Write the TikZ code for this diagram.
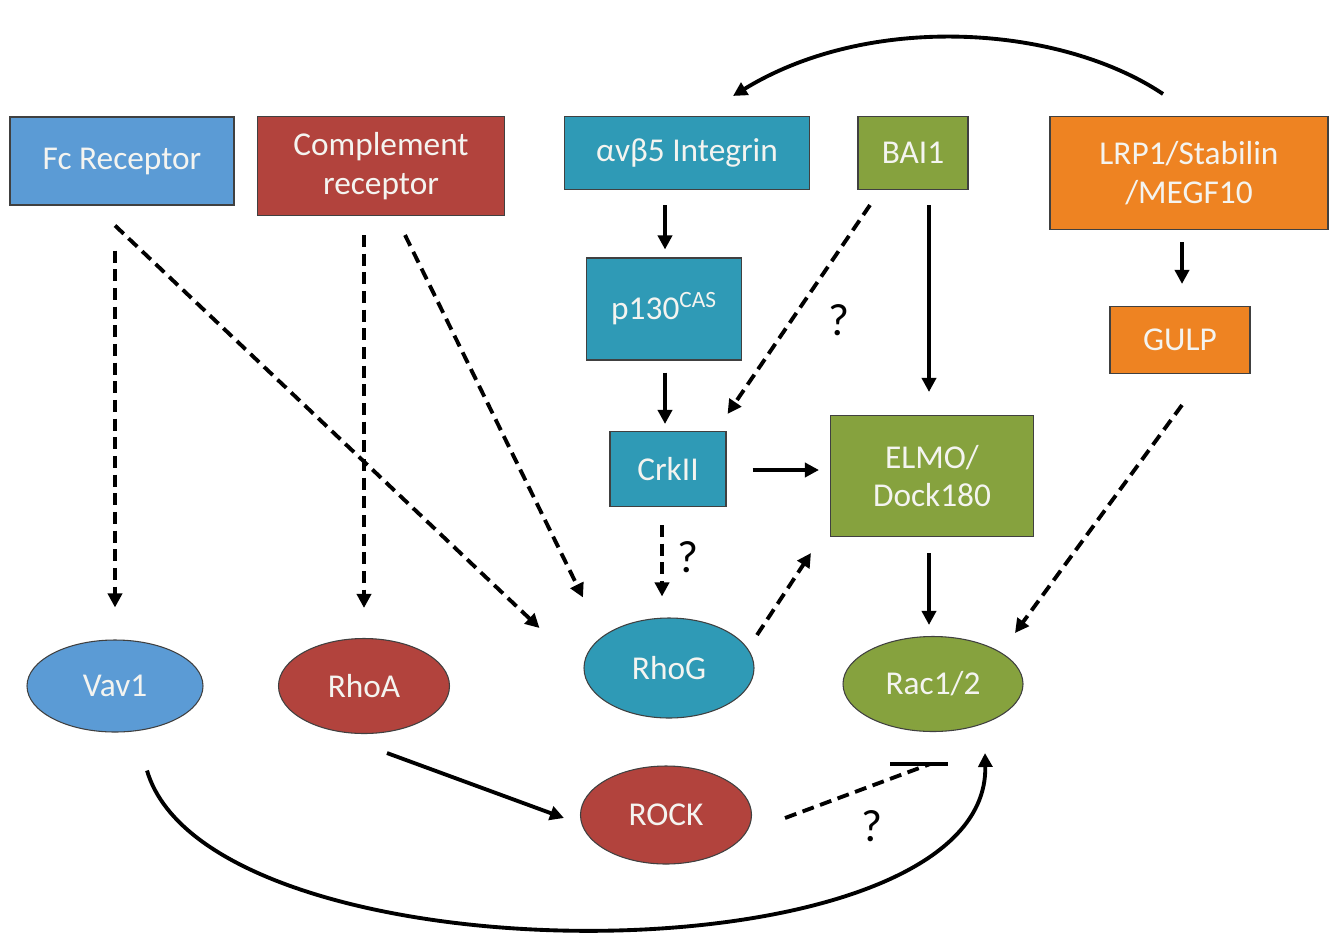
\documentclass[tikz,border=0pt]{standalone}
\usepackage{fontspec}
\setmainfont{Carlito}
\usetikzlibrary{arrows.meta,shapes.geometric,calc}
\definecolor{cblue}{HTML}{5B9BD5}
\definecolor{cred}{HTML}{B2433D}
\definecolor{cteal}{HTML}{2F9AB6}
\definecolor{cgreen}{HTML}{86A23E}
\definecolor{corange}{HTML}{EE8322}
\definecolor{ctext}{HTML}{F4F4F0}
\tikzset{
  box/.style={rectangle,draw=black!75,line width=0.8pt,text=ctext,inner sep=0pt,align=center,font=\fontsize{25}{29}\selectfont},
  oval/.style={ellipse,draw=black!75,line width=0.8pt,text=ctext,inner sep=0pt,font=\fontsize{25}{29}\selectfont},
  sz/.style 2 args={minimum width=#1*0.75pt,minimum height=#2*0.75pt},
  arr/.style={line width=2.9pt,-{Triangle[length=10.5pt,width=10.5pt]}},
  darr/.style={arr,dash pattern=on 9pt off 5pt},
  qm/.style={font=\fontsize{34}{38}\selectfont,text=black}
}
\begin{document}
\begin{tikzpicture}[x=0.75pt,y=-0.75pt]
\useasboundingbox[fill=white] (0,0) rectangle (1337,935);
% boxes
\node[box,fill=cblue,sz={224}{88}] (fc) at (122,161) {Fc Receptor};
\node[box,fill=cred,sz={247}{99}] (comp) at (381,166) {Complement\\receptor};
\node[box,fill=cteal,sz={245}{73}] (int) at (687,153) {αvβ5 Integrin};
\node[box,fill=cgreen,sz={110}{73}] (bai) at (913,153) {BAI1};
\node[box,fill=corange,sz={278}{113}] (lrp) at (1189,173) {LRP1/Stabilin\\/MEGF10};
\node[box,fill=cteal,sz={155}{102}] (p130) at (664,309) {p130\textsuperscript{CAS}};
\node[box,fill=cteal,sz={116}{75}] (crk) at (668,469) {CrkII};
\node[box,fill=cgreen,sz={203}{121}] (elmo) at (932,476) {ELMO/\\Dock180};
\node[box,fill=corange,sz={140}{67}] (gulp) at (1180,340) {GULP};
% ovals
\node[oval,fill=cblue,sz={176}{92}] (vav) at (115,686) {Vav1};
\node[oval,fill=cred,sz={171}{95}] (rhoa) at (364,686) {RhoA};
\node[oval,fill=cteal,sz={170}{100}] (rhog) at (669,668) {RhoG};
\node[oval,fill=cgreen,sz={180}{95}] (rac) at (933,684) {Rac1/2};
\node[oval,fill=cred,sz={171}{98}] (rock) at (666,815) {ROCK};
% connectors
\draw[darr] ($(fc.south)+(-7,45)$) -- ($(vav.north)+(0,-32)$);
\draw[darr] ($(fc.south)+(-7,20)$) -- ($(rhog.west)+(-44,-40)$);
\draw[darr] ($(comp.south)+(-17,19)$) -- ($(rhoa.north)+(0,-30)$);
\draw[darr] ($(comp.south)+(24,19)$) -- ($(rhog.north)+(-86,-20)$);
\draw[arr] ($(int.south)+(-22,15)$) -- ($(p130.north)+(1,-8)$);
\draw[arr] ($(p130.south)+(1,12)$) -- ($(crk.north)+(-3,-7)$);
\draw[darr] ($(bai.south)+(-43,15)$) -- ($(crk.north east)+(1,-17)$);
\node[qm] (q1) at (839,320) {?};
\draw[arr] ($(bai.south)+(16,15)$) -- ($(elmo.north)+(-3,-23)$);
\draw[arr] ($(crk.east)+(26,1)$) -- ($(elmo.west)+(-11,-6)$);
\draw[darr] ($(crk.south)+(-6,18)$) -- ($(rhog.north)+(-7,-21)$);
\node[qm] (q2) at (688,557) {?};
\draw[darr] ($(rhog.center)+(88,-33)$) -- ($(elmo.south west)+(-19,16)$);
\draw[arr] ($(elmo.south)+(-3,16)$) -- ($(rac.north)+(-4,-11)$);
\draw[darr] ($(gulp.south)+(2,31)$) -- ($(rac.center)+(82,-51)$);
\draw[arr] ($(lrp.south)+(-7,12)$) -- ($(gulp.north)+(2,-22)$);
\draw[arr] ($(lrp.north)+(-26,-22)$) .. controls (1060,25) and (870,12) .. ($(int.north)+(46,-20)$);
\draw[arr] ($(rhoa.south)+(23,19)$) -- ($(rock.west)+(-16,3)$);
\draw[line width=2.9pt,dash pattern=on 9pt off 5pt] ($(rock.east)+(33,3)$) -- ($(rac.south)+(-3,32)$);
\draw[line width=2.9pt] ($(rac.south)+(-43,32)$) -- ($(rac.south)+(15,32)$);
\node[qm] (q3) at (872,826) {?};
\draw[arr] ($(vav.south)+(32,38)$) .. controls (210,985) and (990,985) .. ($(rac.south)+(52,21)$);
\end{tikzpicture}
\end{document}
